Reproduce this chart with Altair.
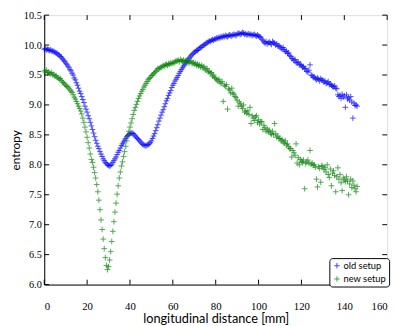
import altair as alt
import pandas as pd

# sampling positions along the channel [mm] (0.5 mm steps, 0 .. 146)
x_pos = [i * 0.5 for i in range(293)]

old_setup = [
    9.93, 9.94, 9.92, 9.93, 9.92, 9.91, 9.92, 9.90, 9.90, 9.89,
    9.88, 9.87, 9.86, 9.84, 9.83, 9.81, 9.80, 9.77, 9.75, 9.73,
    9.70, 9.68, 9.65, 9.63, 9.59, 9.57, 9.53, 9.50, 9.45, 9.42,
    9.37, 9.33, 9.28, 9.23, 9.19, 9.14, 9.09, 9.04, 8.98, 8.93,
    8.88, 8.82, 8.77, 8.71, 8.65, 8.59, 8.53, 8.47, 8.41, 8.36,
    8.31, 8.27, 8.22, 8.18, 8.14, 8.10, 8.07, 8.04, 8.02, 8.00,
    7.99, 7.98, 7.99, 8.01, 8.04, 8.07, 8.10, 8.13, 8.17, 8.21,
    8.24, 8.28, 8.32, 8.35, 8.38, 8.41, 8.44, 8.47, 8.49, 8.51,
    8.52, 8.53, 8.53, 8.52, 8.50, 8.48, 8.46, 8.44, 8.42, 8.40,
    8.38, 8.36, 8.34, 8.33, 8.32, 8.32, 8.33, 8.34, 8.35, 8.37,
    8.40, 8.44, 8.48, 8.52, 8.57, 8.62, 8.67, 8.73, 8.78, 8.83,
    8.88, 8.92, 8.97, 9.02, 9.07, 9.11, 9.16, 9.20, 9.24, 9.29,
    9.33, 9.36, 9.40, 9.43, 9.46, 9.49, 9.53, 9.56, 9.59, 9.62,
    9.65, 9.67, 9.70, 9.73, 9.75, 9.78, 9.80, 9.82, 9.84, 9.86,
    9.88, 9.89, 9.91, 9.91, 9.93, 9.95, 9.96, 9.97, 9.99, 10.00,
    10.01, 10.03, 10.04, 10.05, 10.07, 10.06, 10.08, 10.09, 10.08, 10.10,
    10.10, 10.12, 10.11, 10.13, 10.12, 10.14, 10.13, 10.15, 10.14, 10.16,
    10.15, 10.14, 10.16, 10.17, 10.16, 10.15, 10.17, 10.18, 10.17, 10.16,
    10.18, 10.20, 10.19, 10.18, 10.19, 10.21, 10.20, 10.18, 10.19, 10.17,
    10.18, 10.19, 10.17, 10.18, 10.16, 10.17, 10.18, 10.16, 10.15, 10.17,
    10.15, 10.14, 10.13, 10.10, 10.08, 10.05, 10.03, 10.06, 10.02, 10.04,
    10.05, 10.03, 10.01, 10.06, 10.04, 10.03, 10.00, 10.02, 9.98, 9.99,
    9.97, 9.95, 9.93, 9.96, 9.92, 9.89, 9.90, 9.86, 9.87, 9.83,
    9.81, 9.78, 9.77, 9.74, 9.76, 9.71, 9.70, 9.72, 9.67, 9.68,
    9.66, 9.63, 9.64, 9.60, 9.61, 9.56, 9.55, 9.58, 9.67, 9.50,
    9.49, 9.46, 9.47, 9.44, 9.42, 9.45, 9.43, 9.40, 9.44, 9.42,
    9.41, 9.38, 9.40, 9.36, 9.37, 9.39, 9.34, 9.35, 9.33, 9.31,
    9.30, 9.32, 9.28, 9.27, 9.17, 9.14, 9.16, 9.11, 9.18, 9.13,
    9.15, 8.96, 9.17, 9.10, 9.12, 9.08, 9.14, 9.05, 8.78, 9.03,
    8.99, 9.00, 8.98,
]

new_setup = [
    9.57, 9.55, 9.58, 9.54, 9.55, 9.53, 9.52, 9.54, 9.50, 9.51,
    9.48, 9.49, 9.46, 9.45, 9.43, 9.44, 9.41, 9.38, 9.37, 9.35,
    9.33, 9.31, 9.30, 9.28, 9.25, 9.23, 9.21, 9.17, 9.13, 9.10,
    9.06, 9.02, 8.98, 8.94, 8.90, 8.85, 8.78, 8.71, 8.63, 8.55,
    8.46, 8.37, 8.28, 8.18, 8.09, 8.04, 7.96, 7.87, 7.78, 7.67,
    7.55, 7.41, 7.25, 7.08, 6.92, 6.76, 6.60, 6.45, 6.32, 6.25,
    6.30, 6.41, 6.55, 6.72, 6.89, 7.05, 7.21, 7.36, 7.51, 7.65,
    7.78, 7.88, 7.98, 8.05, 8.14, 8.22, 8.31, 8.40, 8.49, 8.56,
    8.63, 8.70, 8.77, 8.84, 8.91, 8.96, 9.01, 9.06, 9.11, 9.15,
    9.19, 9.23, 9.26, 9.30, 9.33, 9.36, 9.39, 9.42, 9.44, 9.46,
    9.49, 9.50, 9.52, 9.54, 9.56, 9.58, 9.61, 9.60, 9.62, 9.63,
    9.64, 9.66, 9.65, 9.67, 9.68, 9.66, 9.69, 9.68, 9.70, 9.69,
    9.71, 9.70, 9.72, 9.74, 9.73, 9.75, 9.72, 9.76, 9.74, 9.73,
    9.75, 9.72, 9.74, 9.71, 9.73, 9.70, 9.72, 9.74, 9.69, 9.71,
    9.68, 9.70, 9.66, 9.68, 9.65, 9.67, 9.63, 9.66, 9.62, 9.64,
    9.60, 9.58, 9.61, 9.55, 9.56, 9.53, 9.54, 9.48, 9.50, 9.46,
    9.44, 9.42, 9.40, 9.43, 9.38, 9.36, 9.39, 9.06, 9.33, 9.31,
    9.34, 8.93, 9.27, 9.25, 9.20, 9.28, 9.20, 9.18, 9.14, 9.12,
    9.08, 8.98, 9.05, 9.02, 8.98, 8.94, 9.00, 8.88, 8.90, 8.86,
    8.90, 8.84, 8.96, 8.69, 8.82, 8.78, 8.74, 8.80, 8.82, 8.71,
    8.75, 8.68, 8.72, 8.72, 8.59, 8.66, 8.62, 8.56, 8.60, 8.55,
    8.58, 8.53, 8.51, 8.56, 8.50, 8.69, 8.52, 8.46, 8.48, 8.44,
    8.44, 8.40, 8.42, 8.38, 8.36, 8.40, 8.33, 8.35, 8.30, 8.27,
    8.27, 8.13, 8.24, 8.20, 8.16, 8.35, 8.03, 8.12, 8.00, 8.09,
    8.06, 8.04, 8.08, 7.60, 8.02, 8.05, 8.08, 8.03, 8.24, 8.01,
    8.03, 7.99, 8.00, 7.96, 7.76, 7.63, 7.97, 7.94, 7.71, 7.99,
    7.97, 7.92, 7.95, 7.88, 8.00, 7.84, 7.79, 7.93, 7.65, 7.86,
    7.90, 7.82, 7.55, 7.80, 7.95, 7.76, 7.84, 7.70, 7.57, 7.78,
    7.75, 7.72, 7.80, 7.73, 7.50, 7.68, 7.76, 7.62, 7.73, 7.66,
    7.60, 7.55, 7.64,
]

series_names = ["old setup", "new setup"]
series_colors = ["#0000ff", "#008000"]
x_ticks = [0, 20, 40, 60, 80, 100, 120, 140, 160]
y_ticks = [6.0, 6.5, 7.0, 7.5, 8.0, 8.5, 9.0, 9.5, 10.0, 10.5]

W, H = 350, 275
PLUS = "M-1,0L1,0M0,-1L0,1"

df = pd.concat([
    pd.DataFrame({"x": x_pos[:len(old_setup)], "y": old_setup, "series": series_names[0]}),
    pd.DataFrame({"x": x_pos[:len(new_setup)], "y": new_setup, "series": series_names[1]}),
], ignore_index=True)
df["order"] = range(len(df))

xscale = alt.Scale(domain=[0, 160], nice=False, zero=False)
yscale = alt.Scale(domain=[6.0, 10.5], nice=False, zero=False)

x_axis = alt.Axis(
    values=x_ticks, format="d", title="longitudinal distance [mm]",
    grid=False, ticks=False, tickSize=0, labelPadding=16,
    labelFont="Liberation Serif", labelFontSize=11, labelColor="#000",
    titleFont="Lato", titleFontSize=13, titleFontWeight="normal",
    titleColor="#000", titlePadding=2, domainColor="#000")
y_axis = alt.Axis(
    values=y_ticks, format=".1f", title="entropy",
    grid=False, ticks=False, tickSize=0, labelPadding=3,
    labelFont="Liberation Serif", labelFontSize=10.5, labelColor="#000",
    titleFont="Lato", titleFontSize=12, titleFontWeight="normal",
    titleColor="#000", titlePadding=1, domainColor="#000")

points = alt.Chart(df).mark_point(
    shape=PLUS, filled=False, size=34, strokeWidth=0.9, opacity=0.75
).encode(
    x=alt.X("x:Q", scale=xscale, axis=x_axis),
    y=alt.Y("y:Q", scale=yscale, axis=y_axis),
    color=alt.Color("series:N", scale=alt.Scale(domain=series_names, range=series_colors),
                    sort=series_names,
                    legend=alt.Legend(title=None, orient="bottom-right", offset=-2,
                                      strokeColor="#000", fillColor="white",
                                      padding=3, cornerRadius=3,
                                      labelFont="Lato", labelFontSize=9.5, labelColor="#000",
                                      labelOffset=2,
                                      symbolType=PLUS, symbolSize=30, symbolStrokeWidth=1,
                                      rowPadding=2.5)),
    order=alt.Order("order:Q"),
)

xt = pd.DataFrame({"x": x_ticks})
yt = pd.DataFrame({"y": y_ticks})
tl = 5

x_bot = alt.Chart(xt).mark_rule(color="#000", strokeWidth=1).encode(
    x=alt.X("x:Q", scale=xscale, axis=x_axis), y=alt.value(H), y2=alt.value(H - tl))
x_top = alt.Chart(xt).mark_rule(color="#000", strokeWidth=1).encode(
    x=alt.X("x:Q", scale=xscale, axis=x_axis), y=alt.value(0), y2=alt.value(tl))
y_left = alt.Chart(yt).mark_rule(color="#000", strokeWidth=1).encode(
    y=alt.Y("y:Q", scale=yscale, axis=y_axis), x=alt.value(0), x2=alt.value(tl))
y_right = alt.Chart(yt).mark_rule(color="#000", strokeWidth=1).encode(
    y=alt.Y("y:Q", scale=yscale, axis=y_axis), x=alt.value(W), x2=alt.value(W - tl))

chart = alt.layer(points, x_bot, x_top, y_left, y_right).properties(
    width=W, height=H,
    autosize=alt.AutoSizeParams(type="none"),
    padding={"left": 37, "top": 4, "right": 8, "bottom": 39},
).configure_view(stroke="#000", strokeWidth=1).configure(background="white")

chart.save("out.html", embed_options={"renderer": "svg", "actions": False})
